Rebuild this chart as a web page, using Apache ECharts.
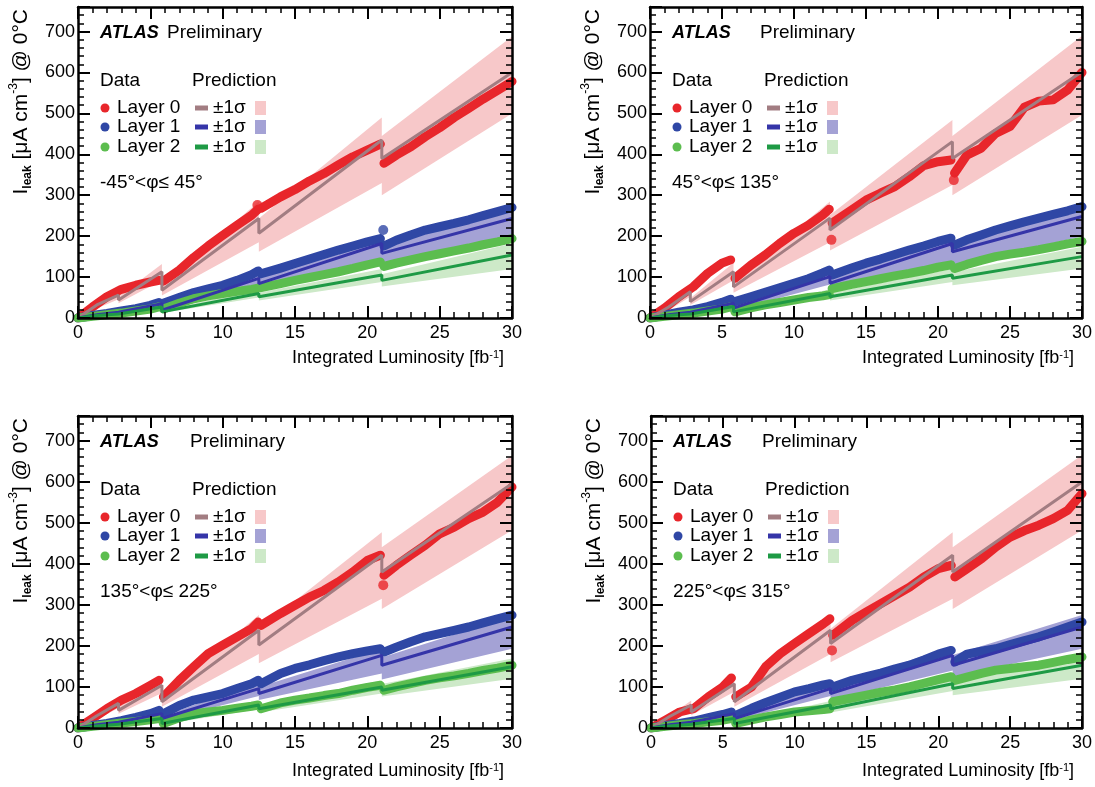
<!DOCTYPE html>
<html>
<head>
<meta charset="utf-8">
<script src="https://cdn.jsdelivr.net/npm/echarts@6/dist/echarts.min.js"></script>
<style>
html, body { margin: 0; padding: 0; background: #fff; }
#main { width: 1095px; height: 787px; }
</style>
</head>
<body>
<div id="main"></div>
<script>
// x positions of data samples (fb^-1), and of prediction knots (jumps at 1.3, 2.8, 5.8, 12.5, 21)
var dataX = [0, 1, 2, 3, 4, 5, 5.6, 5.9, 7, 8, 9, 10, 11, 12, 12.45, 12.65, 14, 15, 16, 17, 18, 19, 20, 20.9, 21.15, 22, 23, 24, 25, 26, 27, 28, 29, 30];
var breakX = [5.75, 12.55, 21.0];
var predX = [0, 1.3, 1.3, 2.8, 2.8, 5.8, 5.8, 12.5, 12.5, 21, 21, 30];

// panel 1 : -45 < phi <= 45
var data1_L0 = [0, 27, 52, 70, 80, 88, 92, 90, 117, 148, 176, 202, 227, 251, 266, 268, 296, 314, 335, 353, 374, 394, 410, 425, 378, 398, 418, 443, 465, 490, 512, 535, 556, 578];
var data1_L1 = [0, 6, 11, 17, 23, 31, 38, 36, 50, 62, 71, 80, 92, 106, 115, 108, 122, 133, 144, 155, 166, 176, 186, 194, 176, 190, 203, 215, 223, 231, 240, 250, 260, 270];
var data1_L2 = [0, 4, 8, 12, 17, 22, 27, 22, 36, 47, 54, 60, 65, 70, 73, 74, 84, 92, 99, 106, 113, 121, 130, 137, 126, 134, 142, 150, 157, 164, 171, 179, 186, 194];
var pred1_L0 = [0, 32, 28, 56, 44, 113, 68, 243, 207, 435, 390, 600];
var up1_L0 = [0, 38, 34, 66, 52, 132, 80, 285, 243, 490, 445, 688];
var dn1_L0 = [0, 27, 23, 46, 36, 92, 55, 185, 162, 330, 300, 500];
var pred1_L1 = [0, 8, 7, 14, 12, 35, 19, 97, 84, 182, 158, 243];
var up1_L1 = [0, 10, 9, 17, 15, 42, 23, 115, 100, 205, 185, 280];
var dn1_L1 = [0, 6, 5, 11, 9, 28, 15, 80, 69, 145, 128, 198];
var pred1_L2 = [0, 6, 5, 10, 8, 27, 15, 60, 52, 105, 92, 154];
var up1_L2 = [0, 7, 6, 12, 10, 32, 18, 70, 62, 120, 107, 182];
var dn1_L2 = [0, 5, 4, 8, 7, 22, 12, 50, 43, 88, 77, 120];

// panel 2 : 45 < phi <= 135
var data2_L0 = [0, 24, 52, 76, 109, 134, 142, 97, 129, 154, 182, 207, 227, 252, 266, 232, 264, 288, 305, 321, 345, 372, 382, 386, 354, 398, 415, 451, 468, 515, 530, 533, 557, 600];
var data2_L1 = [0, 7, 14, 20, 28, 38, 46, 40, 52, 63, 74, 85, 96, 110, 117, 105, 122, 134, 144, 155, 166, 176, 187, 195, 178, 191, 203, 215, 225, 235, 244, 253, 262, 272];
var data2_L2 = [0, 4, 8, 12, 17, 22, 27, 15, 25, 32, 38, 44, 50, 54, 57, 72, 82, 89, 96, 103, 109, 116, 124, 130, 121, 131, 141, 150, 156, 161, 167, 174, 181, 187];
var pred2_L0 = [0, 27, 24, 64, 40, 113, 76, 244, 215, 431, 390, 602];
var up2_L0 = [0, 33, 29, 76, 48, 135, 90, 285, 252, 484, 445, 690];
var dn2_L0 = [0, 22, 19, 52, 32, 92, 62, 185, 165, 325, 300, 496];
var pred2_L1 = [0, 8, 7, 14, 12, 36, 24, 101, 85, 182, 162, 248];
var up2_L1 = [0, 10, 9, 17, 15, 42, 29, 118, 100, 200, 185, 280];
var dn2_L1 = [0, 6, 5, 11, 9, 28, 19, 82, 69, 140, 128, 199];
var pred2_L2 = [0, 6, 5, 10, 8, 28, 15, 60, 52, 105, 97, 150];
var up2_L2 = [0, 7, 6, 12, 10, 33, 18, 70, 62, 120, 112, 174];
var dn2_L2 = [0, 5, 4, 8, 7, 23, 12, 50, 43, 88, 80, 121];

// panel 3 : 135 < phi <= 225
var data3_L0 = [0, 23, 47, 68, 84, 104, 116, 76, 116, 149, 181, 202, 222, 242, 258, 250, 279, 299, 319, 335, 356, 380, 408, 421, 372, 396, 421, 445, 473, 489, 510, 526, 550, 587];
var data3_L1 = [0, 6, 11, 18, 26, 35, 43, 35, 55, 68, 76, 84, 96, 108, 116, 108, 133, 145, 154, 164, 173, 181, 188, 193, 185, 197, 210, 222, 230, 238, 246, 256, 266, 275];
var data3_L2 = [0, 4, 8, 12, 16, 20, 23, 11, 25, 35, 39, 43, 48, 53, 56, 47, 61, 68, 73, 79, 84, 92, 99, 104, 92, 100, 108, 116, 122, 127, 133, 140, 146, 153];
var pred3_L0 = [0, 30, 27, 60, 43, 104, 64, 238, 202, 421, 380, 595];
var up3_L0 = [0, 36, 32, 71, 51, 124, 76, 275, 240, 477, 440, 664];
var dn3_L0 = [0, 24, 21, 49, 35, 85, 52, 180, 158, 315, 290, 482];
var pred3_L1 = [0, 8, 7, 14, 12, 35, 23, 96, 84, 177, 153, 246];
var up3_L1 = [0, 10, 9, 17, 15, 42, 28, 113, 100, 193, 172, 272];
var dn3_L1 = [0, 6, 5, 11, 9, 28, 18, 78, 68, 133, 118, 193];
var pred3_L2 = [0, 5, 4, 9, 7, 23, 11, 56, 47, 100, 92, 149];
var up3_L2 = [0, 6, 5, 11, 9, 27, 14, 66, 56, 116, 107, 169];
var dn3_L2 = [0, 4, 3, 7, 5, 19, 8, 46, 38, 84, 77, 120];

// panel 4 : 225 < phi <= 315
var data4_L0 = [0, 19, 39, 48, 76, 100, 122, 76, 100, 150, 181, 206, 230, 254, 266, 226, 262, 283, 303, 323, 343, 368, 388, 396, 368, 388, 412, 441, 465, 481, 494, 510, 530, 571];
var data4_L1 = [0, 6, 11, 17, 25, 33, 39, 31, 48, 62, 75, 88, 96, 105, 108, 100, 116, 125, 134, 144, 153, 166, 180, 189, 161, 180, 187, 193, 203, 213, 222, 234, 246, 258];
var data4_L2 = [0, 4, 8, 11, 15, 19, 23, 11, 20, 27, 33, 39, 42, 45, 47, 64, 73, 80, 87, 93, 100, 109, 118, 125, 116, 124, 133, 141, 145, 149, 153, 160, 167, 173];
var pred4_L0 = [0, 28, 25, 56, 39, 108, 64, 238, 206, 421, 380, 599];
var up4_L0 = [0, 34, 30, 67, 47, 128, 76, 275, 242, 477, 440, 665];
var dn4_L0 = [0, 22, 20, 45, 31, 88, 52, 180, 160, 315, 290, 482];
var pred4_L1 = [0, 8, 7, 14, 12, 35, 23, 96, 84, 177, 153, 246];
var up4_L1 = [0, 10, 9, 17, 15, 42, 28, 113, 100, 200, 178, 275];
var dn4_L1 = [0, 6, 5, 11, 9, 28, 18, 78, 68, 140, 125, 193];
var pred4_L2 = [0, 5, 4, 9, 7, 23, 11, 56, 47, 108, 96, 153];
var up4_L2 = [0, 6, 5, 11, 9, 27, 14, 66, 56, 124, 111, 181];
var dn4_L2 = [0, 4, 3, 7, 5, 19, 8, 46, 38, 90, 80, 120];

// isolated points with large error bars: [x, y, layer]
var outliers1 = [[12.4, 276, 0], [21.1, 215, 1]];
var outliers2 = [[12.6, 191, 0], [21.1, 337, 0]];
var outliers3 = [[21.1, 348, 0]];
var outliers4 = [[12.6, 189, 0]];

var regionLabels = ['-45°<φ≤ 45°', '45°<φ≤ 135°', '135°<φ≤ 225°', '225°<φ≤ 315°'];
var layerNames = ['Layer 0', 'Layer 1', 'Layer 2'];

var dataColors = ['#e8262b', '#2f47a5', '#5cbd4f'];
var predColors = ['#a27d82', '#3535a8', '#1e9a45'];
var bandColors = ['#f7c8c9', '#a4a2d5', '#cde9c8'];
var FONT = '"Liberation Sans", Arial, Helvetica, sans-serif';

var panels = [
    {data: [data1_L0, data1_L1, data1_L2], pred: [pred1_L0, pred1_L1, pred1_L2], up: [up1_L0, up1_L1, up1_L2], dn: [dn1_L0, dn1_L1, dn1_L2], out: outliers1},
    {data: [data2_L0, data2_L1, data2_L2], pred: [pred2_L0, pred2_L1, pred2_L2], up: [up2_L0, up2_L1, up2_L2], dn: [dn2_L0, dn2_L1, dn2_L2], out: outliers2},
    {data: [data3_L0, data3_L1, data3_L2], pred: [pred3_L0, pred3_L1, pred3_L2], up: [up3_L0, up3_L1, up3_L2], dn: [dn3_L0, dn3_L1, dn3_L2], out: outliers3},
    {data: [data4_L0, data4_L1, data4_L2], pred: [pred4_L0, pred4_L1, pred4_L2], up: [up4_L0, up4_L1, up4_L2], dn: [dn4_L0, dn4_L1, dn4_L2], out: outliers4}
];

var grids = [
    {left: 78, top: 7, width: 434, height: 311},
    {left: 650, top: 7, width: 432, height: 311},
    {left: 78, top: 416, width: 434, height: 312},
    {left: 651, top: 416, width: 431, height: 312}
];
var prelimX = [89, 110, 112, 111];
var xTitleY = [358, 358, 771, 771];

var dom = document.getElementById('main');
var myChart = echarts.init(dom, null, {renderer: 'canvas'});

// data points joined, broken at luminosity gaps
function toPairs(ys) {
    var out = [];
    for (var i = 0; i < dataX.length; i++) {
        if (i > 0) {
            for (var b = 0; b < breakX.length; b++) {
                if (dataX[i - 1] < breakX[b] && dataX[i] > breakX[b]) out.push([breakX[b], null]);
            }
        }
        out.push([dataX[i], ys[i]]);
    }
    return out;
}

function axisCommon(g) {
    return {
        gridIndex: g,
        type: 'value',
        z: 10,
        splitLine: {show: false},
        axisLine: {show: true, onZero: false, lineStyle: {color: '#000', width: 2.5}},
        axisTick: {show: true, inside: true, length: 12, lineStyle: {color: '#000', width: 2}},
        minorTick: {show: true, splitNumber: 5, length: 6, lineStyle: {color: '#000', width: 1.5}}
    };
}

var xAxes = [], yAxes = [], series = [], graphics = [];

grids.forEach(function (gr, g) {
    var xb = axisCommon(g);
    xb.position = 'bottom'; xb.min = 0; xb.max = 30; xb.interval = 5;
    xb.axisLabel = {fontSize: 18, color: '#000', margin: 6, fontFamily: FONT};
    var xt = axisCommon(g);
    xt.position = 'top'; xt.min = 0; xt.max = 30; xt.interval = 5;
    xt.axisLabel = {show: false};
    xAxes.push(xb, xt);

    var yl = axisCommon(g);
    yl.position = 'left'; yl.min = 0; yl.max = 760; yl.interval = 100;
    yl.axisLabel = {fontSize: 18, color: '#000', margin: 3, fontFamily: FONT, showMaxLabel: false};
    var yr = axisCommon(g);
    yr.position = 'right'; yr.min = 0; yr.max = 760; yr.interval = 100;
    yr.axisLabel = {show: false};
    yAxes.push(yl, yr);

    var p = panels[g];
    // ±1σ bands
    for (var k = 0; k < 3; k++) {
        (function (up, dn, col) {
            series.push({
                type: 'custom', xAxisIndex: 2 * g, yAxisIndex: 2 * g, z: 1, silent: true, clip: true,
                data: [[0, 0]],
                renderItem: function (params, api) {
                    var pts = [];
                    for (var i = 0; i < predX.length; i++) pts.push(api.coord([predX[i], up[i]]));
                    for (var j = predX.length - 1; j >= 0; j--) pts.push(api.coord([predX[j], dn[j]]));
                    return {type: 'polygon', shape: {points: pts}, style: {fill: col}};
                }
            });
        })(p.up[k], p.dn[k], bandColors[k]);
    }
    // data
    for (var k2 = 0; k2 < 3; k2++) {
        series.push({
            type: 'line', xAxisIndex: 2 * g, yAxisIndex: 2 * g, z: 3, showSymbol: false, symbol: 'none',
            connectNulls: false, silent: true,
            lineStyle: {color: dataColors[k2], width: 9, cap: 'round', join: 'round'},
            data: toPairs(p.data[k2])
        });
    }
    // predictions
    for (var k3 = 0; k3 < 3; k3++) {
        series.push({
            type: 'line', xAxisIndex: 2 * g, yAxisIndex: 2 * g, z: 4, symbol: 'none', silent: true,
            lineStyle: {color: predColors[k3], width: 3},
            data: predX.map(function (x, i) { return [x, p.pred[k3][i]]; })
        });
    }
    // outliers
    series.push({
        type: 'scatter', xAxisIndex: 2 * g, yAxisIndex: 2 * g, z: 5, symbolSize: 10, silent: true,
        itemStyle: {color: function (pr) { return dataColors[pr.data[2]]; }},
        data: p.out
    });

    // text and legend
    var L = gr.left, T = gr.top;
    graphics.push({type: 'text', x: L + 22, y: T + 26, style: {text: 'ATLAS', font: 'italic bold 18px ' + FONT, fill: '#000', verticalAlign: 'middle'}});
    graphics.push({type: 'text', x: L + prelimX[g], y: T + 26, style: {text: 'Preliminary', font: '19px ' + FONT, fill: '#000', verticalAlign: 'middle'}});
    graphics.push({type: 'text', x: L + 22, y: T + 74, style: {text: 'Data', font: '19px ' + FONT, fill: '#000', verticalAlign: 'middle'}});
    graphics.push({type: 'text', x: L + 114, y: T + 74, style: {text: 'Prediction', font: '19px ' + FONT, fill: '#000', verticalAlign: 'middle'}});
    var rows = [101, 120, 140];
    for (var r = 0; r < 3; r++) {
        var ry = T + rows[r];
        graphics.push({type: 'circle', shape: {cx: L + 27, cy: ry, r: 4.5}, style: {fill: dataColors[r]}});
        graphics.push({type: 'text', x: L + 39, y: ry, style: {text: layerNames[r], font: '19px ' + FONT, fill: '#000', verticalAlign: 'middle'}});
        graphics.push({type: 'rect', shape: {x: L + 117, y: ry - 2.5, width: 13, height: 5}, style: {fill: predColors[r]}});
        graphics.push({type: 'text', x: L + 135, y: ry, style: {text: '±1σ', font: '19px ' + FONT, fill: '#000', verticalAlign: 'middle'}});
        graphics.push({type: 'rect', shape: {x: L + 177, y: ry - 7, width: 11, height: 14}, style: {fill: bandColors[r]}});
    }
    graphics.push({type: 'text', x: L + 22, y: T + 176, style: {text: regionLabels[g], font: '19px ' + FONT, fill: '#000', verticalAlign: 'middle'}});

    // axis titles
    graphics.push({
        type: 'text', x: L + gr.width - 8, y: xTitleY[g],
        style: {
            text: '{m|Integrated Luminosity [fb}{p|-1}{m|]}',
            align: 'right', verticalAlign: 'middle', fill: '#000',
            rich: {m: {fontSize: 18, fontFamily: FONT, fill: '#000'}, p: {fontSize: 11, fontFamily: FONT, verticalAlign: 'top', fill: '#000'}}
        }
    });
    graphics.push({
        type: 'text', x: L - 57, y: T + 2, rotation: Math.PI / 2,
        style: {
            text: '{m|I}{s|leak}{m| [μA cm}{p|-3}{m|] @ 0°C}',
            align: 'right', verticalAlign: 'middle', fill: '#000',
            rich: {
                m: {fontSize: 21, fontFamily: FONT, fill: '#000', lineHeight: 26},
                s: {fontSize: 12, fontFamily: FONT, fill: '#000', fontWeight: 'bold', verticalAlign: 'bottom'},
                p: {fontSize: 12, fontFamily: FONT, fill: '#000', verticalAlign: 'top'}
            }
        }
    });
});

option = {
    animation: false,
    backgroundColor: '#fff',
    grid: grids,
    xAxis: xAxes,
    yAxis: yAxes,
    series: series,
    graphic: graphics
};
myChart.setOption(option);
</script>
</body>
</html>
